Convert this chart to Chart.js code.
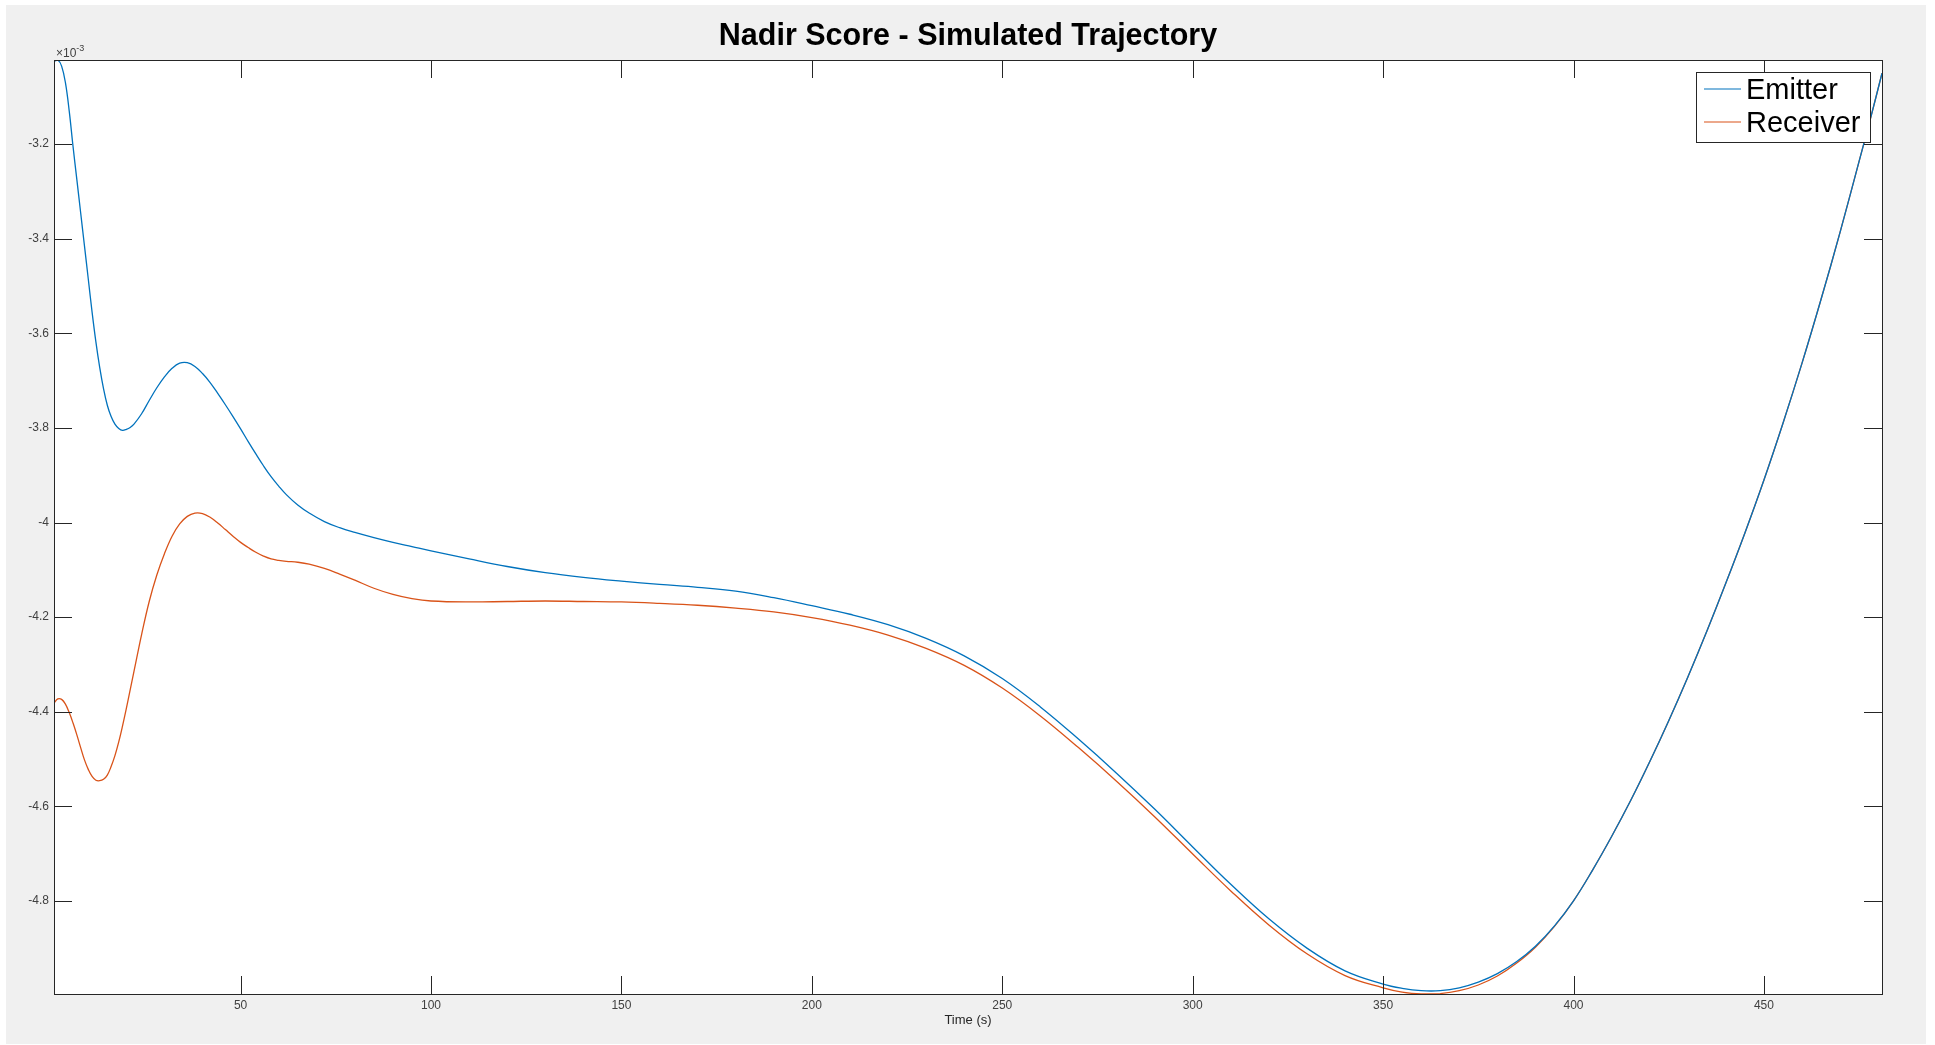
<!DOCTYPE html>
<html>
<head>
<meta charset="utf-8">
<title>Nadir Score - Simulated Trajectory</title>
<script src="https://cdn.jsdelivr.net/npm/chart.js@4.4.1/dist/chart.umd.min.js"></script>
<style>
  html, body { margin: 0; padding: 0; background: #fff; overflow: hidden; }
  #wrap { width: 1935px; height: 1045px; }
</style>
</head>
<body>
<div id="wrap"><canvas id="nadir"></canvas></div>
<script>
// time axis (s), shared by both series
const timeS = [1, 2, 3, 4, 5, 6, 7, 8, 9, 10, 11, 12, 13, 14, 15, 16, 17, 18, 19, 20, 21, 22, 24, 26, 28, 30,
    32, 34, 36, 38, 40, 42, 44, 46, 48, 50, 52, 54, 56, 58, 60, 62, 65, 68, 72, 76, 80, 85, 90, 95,
    100, 110, 120, 130, 140, 150, 160, 170, 180, 190, 200, 210, 220, 230, 240, 250, 260, 270, 280,
    290, 300, 310, 320, 330, 340, 350, 355, 360, 365, 370, 375, 380, 385, 390, 395, 400, 405, 410,
    415, 420, 425, 430, 435, 440, 445, 450, 455, 460, 465, 470, 475, 478, 481]

// nadir score, in units of 1e-3
const emitter = [-3.025, -3.022, -3.035, -3.07, -3.13, -3.205, -3.275, -3.345, -3.415, -3.485, -3.555,
    -3.618, -3.672, -3.717, -3.752, -3.776, -3.792, -3.801, -3.805, -3.803, -3.799, -3.792, -3.77,
    -3.742, -3.715, -3.692, -3.674, -3.663, -3.662, -3.67, -3.685, -3.704, -3.727, -3.751, -3.776,
    -3.802, -3.829, -3.855, -3.88, -3.903, -3.923, -3.941, -3.963, -3.98, -3.998, -4.011, -4.021,
    -4.032, -4.042, -4.051, -4.06, -4.077, -4.093, -4.106, -4.116, -4.124, -4.131, -4.137, -4.145,
    -4.159, -4.176, -4.194, -4.216, -4.245, -4.282, -4.33, -4.39, -4.458, -4.53, -4.606, -4.686,
    -4.765, -4.838, -4.9, -4.948, -4.976, -4.985, -4.99, -4.99, -4.984, -4.972, -4.954, -4.929,
    -4.896, -4.853, -4.8, -4.735, -4.664, -4.588, -4.506, -4.419, -4.327, -4.23, -4.128, -4.022,
    -3.91, -3.79, -3.663, -3.528, -3.386, -3.236, -3.145, -3.05]

const receiver = [-4.382, -4.373, -4.374, -4.384, -4.402, -4.424, -4.449, -4.476, -4.502, -4.522,
    -4.537, -4.545, -4.546, -4.543, -4.534, -4.516, -4.493, -4.464, -4.43, -4.393, -4.354, -4.315,
    -4.237, -4.167, -4.111, -4.066, -4.029, -4.003, -3.987, -3.98, -3.981, -3.989, -4.001, -4.015,
    -4.029, -4.042, -4.053, -4.063, -4.071, -4.077, -4.08, -4.082, -4.084, -4.088, -4.097, -4.109,
    -4.122, -4.139, -4.152, -4.161, -4.166, -4.168, -4.167, -4.166, -4.167, -4.168, -4.171, -4.175,
    -4.181, -4.189, -4.201, -4.217, -4.238, -4.266, -4.302, -4.35, -4.409, -4.476, -4.547, -4.622,
    -4.701, -4.779, -4.851, -4.912, -4.958, -4.984, -4.993, -4.997, -4.996, -4.99, -4.978, -4.959,
    -4.932, -4.898, -4.854, -4.8, -4.735, -4.664, -4.588, -4.506, -4.419, -4.327, -4.23, -4.128,
    -4.022, -3.91, -3.79, -3.663, -3.528, -3.386, -3.236, -3.145, -3.05]

const seriesNames = ['Emitter', 'Receiver']
const xTicks = [50, 100, 150, 200, 250, 300, 350, 400, 450]
const yTicks = [-4.8, -4.6, -4.4, -4.2, -4, -3.8, -3.6, -3.4, -3.2]
const xLimits = [1, 481]
const yLimits = [-4.997, -3.022]

const axisColor = '#262626'
const fontName = '"Liberation Sans", Arial, Helvetica, sans-serif'

// frame, inward ticks, legend, title and exponent, drawn the MATLAB way
const matlabLook = {
    id: 'matlabLook',
    beforeDraw(chart) {
        const c = chart.ctx
        const a = chart.chartArea
        c.save()
        c.fillStyle = '#ffffff'
        c.fillRect(0, 0, chart.width, chart.height)
        c.fillStyle = '#f0f0f0'
        c.fillRect(6, 5, 1920, 1039)
        c.fillStyle = '#ffffff'
        c.fillRect(a.left, a.top, a.right - a.left, a.bottom - a.top)
        c.restore()
    },
    afterDraw(chart) {
        const c = chart.ctx
        const a = chart.chartArea
        const xs = chart.scales.x
        const ys = chart.scales.y
        const tick = 18

        c.save()
        c.strokeStyle = axisColor
        c.lineWidth = 1
        c.beginPath()
        xs.ticks.forEach(t => {
            const px = Math.round(xs.getPixelForValue(t.value)) + 0.5
            c.moveTo(px, a.bottom); c.lineTo(px, a.bottom - tick)
            c.moveTo(px, a.top); c.lineTo(px, a.top + tick)
        })
        ys.ticks.forEach(t => {
            const py = Math.round(ys.getPixelForValue(t.value)) + 0.5
            c.moveTo(a.left, py); c.lineTo(a.left + tick, py)
            c.moveTo(a.right, py); c.lineTo(a.right - tick, py)
        })
        c.stroke()
        c.strokeRect(Math.round(a.left) + 0.5, Math.round(a.top) + 0.5,
            Math.round(a.right - a.left), Math.round(a.bottom - a.top))

        // exponent above the y axis
        c.fillStyle = '#404040'
        c.textBaseline = 'alphabetic'
        c.textAlign = 'left'
        c.font = '12px ' + fontName
        c.fillText('\u00d710', a.left + 2, a.top - 3)
        const w = c.measureText('\u00d710').width
        c.font = '9px ' + fontName
        c.fillText('-3', a.left + 2 + w, a.top - 9)

        // title
        c.fillStyle = '#000000'
        c.textAlign = 'center'
        c.font = 'bold 30.5px ' + fontName
        c.fillText('Nadir Score - Simulated Trajectory', (a.left + a.right) / 2, 45)

        // legend box in the top right corner
        const bx = 1696.5, by = 72.5, bw = 174, bh = 70
        c.fillStyle = '#ffffff'
        c.fillRect(bx, by, bw, bh)
        c.strokeStyle = axisColor
        c.strokeRect(bx, by, bw, bh)
        c.textAlign = 'left'
        c.font = '29px ' + fontName
        chart.data.datasets.forEach((ds, i) => {
            const ly = 89 + i * 33
            c.strokeStyle = ds.borderColor
            c.lineWidth = 1.2
            c.beginPath()
            c.moveTo(1704, ly); c.lineTo(1741, ly)
            c.stroke()
            c.fillStyle = '#000000'
            c.fillText(ds.label, 1746, ly + 10)
        })
        c.restore()
    }
}

const toPoints = vals => timeS.map((t, i) => ({ x: t, y: vals[i] }))

const ctx = document.getElementById('nadir').getContext('2d')

new Chart(ctx, {
    type: 'line',
    data: {
        datasets: [
            {
                label: seriesNames[0],
                data: toPoints(emitter),
                borderColor: '#0072BD',
                borderWidth: 1.3,
                pointRadius: 0,
                tension: 0.4
            },
            {
                label: seriesNames[1],
                data: toPoints(receiver),
                borderColor: '#D95319',
                borderWidth: 1.3,
                pointRadius: 0,
                tension: 0.4
            }
        ]
    },
    options: {
        responsive: true,
        maintainAspectRatio: false,
        animation: false,
        devicePixelRatio: 1,
        layout: { padding: { top: 60, right: 53, bottom: 0, left: 0 } },
        plugins: {
            legend: { display: false },
            title: { display: false },
            tooltip: { enabled: false }
        },
        scales: {
            x: {
                type: 'linear',
                min: xLimits[0],
                max: xLimits[1],
                grid: { display: false, drawTicks: false },
                border: { display: false },
                afterBuildTicks: s => { s.ticks = xTicks.map(v => ({ value: v })) },
                afterFit: s => { s.height = 51 },
                ticks: {
                    color: '#404040',
                    font: { family: fontName, size: 12 },
                    padding: 4,
                    maxRotation: 0,
                    autoSkip: false
                },
                title: {
                    display: true,
                    text: 'Time (s)',
                    color: axisColor,
                    font: { family: fontName, size: 13 },
                    padding: { top: 0, bottom: 17 }
                }
            },
            y: {
                type: 'linear',
                min: yLimits[0],
                max: yLimits[1],
                grid: { display: false, drawTicks: false },
                border: { display: false },
                afterBuildTicks: s => { s.ticks = yTicks.map(v => ({ value: v })) },
                afterFit: s => { s.width = 54 },
                ticks: {
                    color: '#404040',
                    font: { family: fontName, size: 12 },
                    padding: 5,
                    autoSkip: false,
                    callback: v => String(Math.round(v * 10) / 10)
                }
            }
        }
    },
    plugins: [matlabLook]
})
</script>
</body>
</html>
